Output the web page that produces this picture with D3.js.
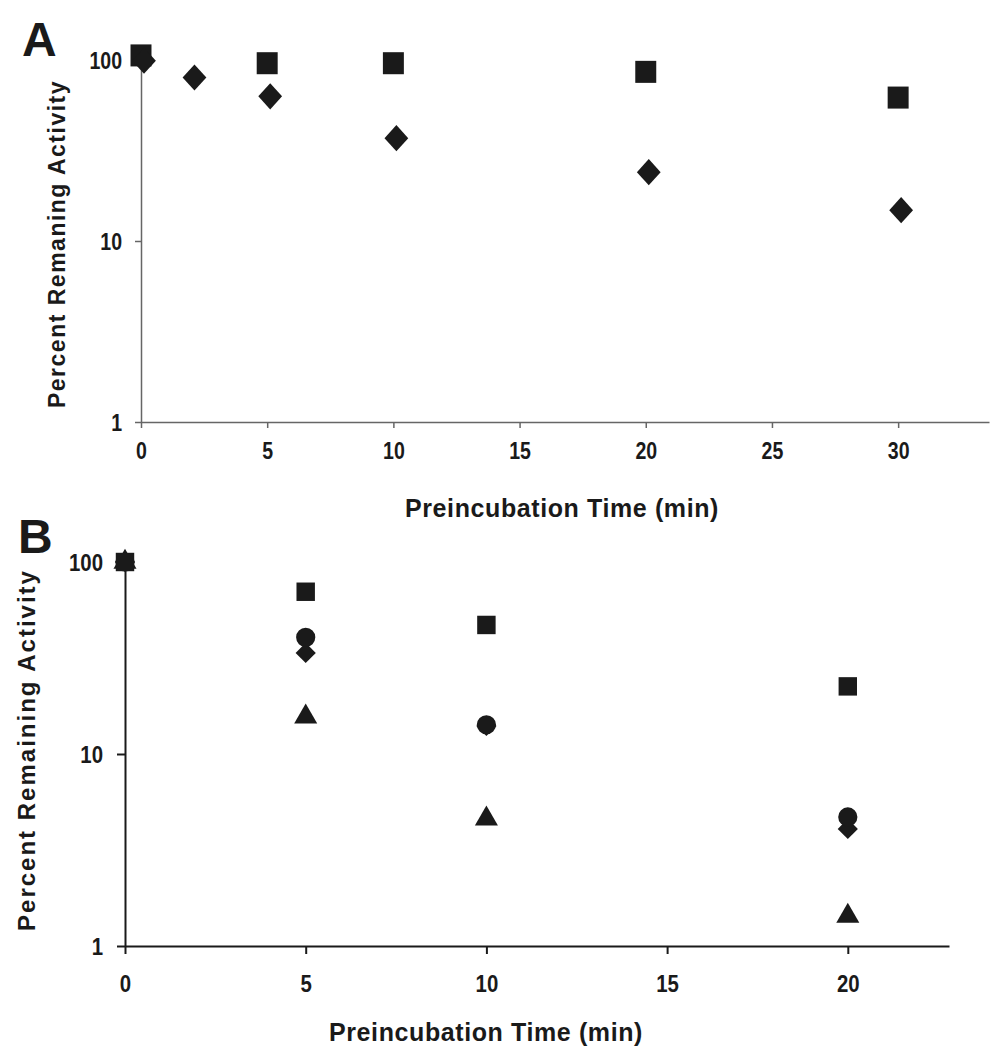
<!DOCTYPE html>
<html><head><meta charset="utf-8">
<script src="https://cdn.jsdelivr.net/npm/d3@7"></script>
<style>
body{margin:0;background:#fff;}
svg{display:block;}
.tick text{font-family:"Liberation Sans",Arial,sans-serif;font-weight:bold;fill:#1a1a1a;}
</style></head>
<body>
<svg id="chart" width="1008" height="1050"></svg>
<script>
// ---- Panel A data ----
const timesA_square = [0, 5, 10, 20, 30];
const valuesA_square = [106, 96, 96, 86, 62];
const timesA_diamond = [0, 2, 5, 10, 20, 30];
const valuesA_diamond = [99, 80, 63, 37, 24, 14.8];
const xTicksA = [0, 5, 10, 15, 20, 25, 30];
const yTicks = [1, 10, 100];

// ---- Panel B data ----
const timesB = [0, 5, 10, 20];
const valuesB_square = [100, 70, 47, 22.5];
const valuesB_circle = [100, 40.5, 14.2, 4.7];
const valuesB_diamond = [100, 33.6, 14, 4.07];
const valuesB_triangle = [100, 15.6, 4.6, 1.43];
const xTicksB = [0, 5, 10, 15, 20];

const svg = d3.select("#chart");
const ink = "#1a1a1a";
const font = '"Liberation Sans",Arial,sans-serif';
const SX = 0.85;

function panel(cfg){
  const g = svg.append("g");
  const x = d3.scaleLinear().domain(cfg.xDomain).range(cfg.xRange);
  const y = d3.scaleLog().domain([1,100]).range(cfg.yRange);

  const xa = g.append("g").attr("transform",`translate(0,${cfg.yRange[0]})`)
    .call(d3.axisBottom(x).tickValues(cfg.xTicks).tickFormat(d3.format("d")).tickSize(cfg.tick).tickSizeOuter(0));
  const ya = g.append("g").attr("transform",`translate(${cfg.xRange[0]},0)`)
    .call(d3.axisLeft(y).tickValues(yTicks).tickFormat(d3.format("d")).tickSize(cfg.tick).tickSizeOuter(0));
  [xa,ya].forEach(a=>{
    a.select(".domain").attr("stroke",cfg.axisColor).attr("stroke-width",cfg.axisWidth);
    a.selectAll(".tick line").attr("stroke",cfg.axisColor).attr("stroke-width",cfg.axisWidth);
  });
  xa.selectAll(".tick text").attr("font-size",cfg.tickFont).attr("y",cfg.xLabelDy).attr("dy","0.35em")
    .attr("transform",`scale(${SX},1)`);
  ya.selectAll(".tick text").attr("font-size",cfg.tickFont).attr("x",-cfg.yGap/SX).attr("dy","0.35em")
    .attr("transform",`scale(${SX},1)`);

  // series
  cfg.series.forEach(s=>{
    const sym = d3.symbol().type(s.type).size(s.size);
    g.append("g").selectAll("path").data(s.t.map((t,i)=>[t,s.v[i]])).join("path")
      .attr("d",sym)
      .attr("fill",ink)
      .attr("transform",d=>`translate(${x(d[0])+(s.dx||0)},${y(d[1])}) scale(1,${s.sy||1})`);
  });

  // titles
  g.append("text").attr("x",cfg.xTitleX).attr("y",cfg.xTitleY)
    .attr("text-anchor","middle").attr("font-family",font).attr("font-weight","bold")
    .attr("font-size",25).attr("letter-spacing",0.6).attr("fill",ink).text("Preincubation Time (min)");
  g.append("text").attr("transform",`translate(${cfg.yTitleX},${cfg.yTitleCY}) rotate(-90)`)
    .attr("text-anchor","middle").attr("font-family",font).attr("font-weight","bold")
    .attr("font-size",cfg.yTitleFont).attr("letter-spacing",cfg.yTitleLS).attr("fill",ink).text(cfg.yTitle);
  g.append("text").attr("x",cfg.labelX).attr("y",cfg.labelY).attr("font-family",font)
    .attr("font-weight","bold").attr("font-size",48).attr("fill",ink).text(cfg.label);
}

panel({
  xDomain:[0,33.6], xRange:[141,989], yRange:[422,60],
  xTicks:xTicksA, tick:6, tickFont:23, xLabelDy:29, yGap:19,
  axisColor:"#666", axisWidth:1.5,
  xTitleX:562, xTitleY:517,
  yTitleX:65, yTitleCY:244, yTitleFont:23, yTitleLS:1.5,
  yTitle:"Percent Remaning Activity",
  label:"A", labelX:22, labelY:56,
  series:[
    {type:d3.symbolSquare, size:440, t:timesA_square, v:valuesA_square, sy:1.05},
    {type:d3.symbolDiamond2, size:360, t:timesA_diamond, v:valuesA_diamond, dx:3, sy:1.1}
  ]
});

panel({
  xDomain:[0,22.8], xRange:[125,949], yRange:[946,562],
  xTicks:xTicksB, tick:8, tickFont:24, xLabelDy:38, yGap:22,
  axisColor:ink, axisWidth:2,
  xTitleX:486, xTitleY:1041,
  yTitleX:35, yTitleCY:750, yTitleFont:24, yTitleLS:2,
  yTitle:"Percent Remaining Activity",
  label:"B", labelX:18, labelY:553,
  series:[
    {type:d3.symbolTriangle, size:230, t:timesB, v:valuesB_triangle},
    {type:d3.symbolDiamond2, size:260, t:timesB, v:valuesB_diamond},
    {type:d3.symbolCircle, size:290, t:timesB, v:valuesB_circle},
    {type:d3.symbolSquare, size:340, t:timesB, v:valuesB_square}
  ]
});
</script>
</body></html>
